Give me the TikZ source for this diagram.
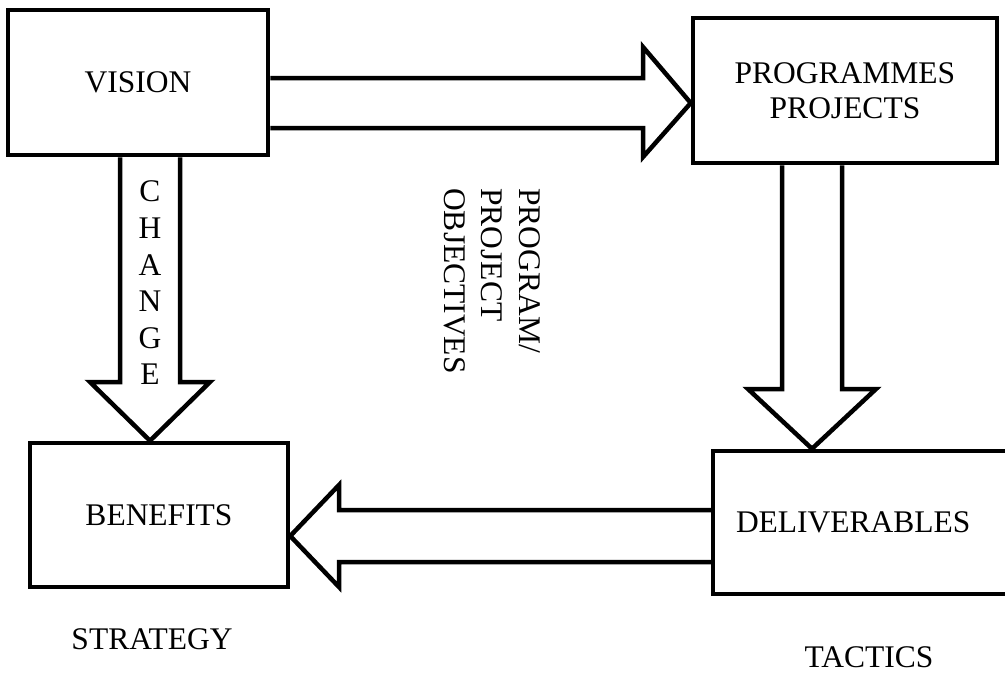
\documentclass[tikz,border=0pt]{standalone}
\usepackage{fontspec}
\setmainfont{Liberation Serif}
\begin{document}
\begin{tikzpicture}[x=1pt,y=-1pt,
  boxnode/.style={draw,line width=4.5pt,fill=white,inner sep=0pt,font=\fontsize{31.5}{35}\selectfont,align=center},
  blockarrow/.style={draw,line width=4.5pt,fill=white,line join=miter},
  label/.style={inner sep=0pt,font=\fontsize{31.5}{37.5}\selectfont}]
\useasboundingbox (0,0) rectangle (1005,675);
% boxes
\node[boxnode,minimum width=260pt,minimum height=145pt] (vision) at (138,82.5) {VISION};
\node[boxnode,minimum width=304pt,minimum height=145pt] (prog) at (845,90.5) {PROGRAMMES\\PROJECTS};
\node[boxnode,minimum width=258pt,minimum height=144pt] (benefits) at (159,515) {BENEFITS};
\node[boxnode,minimum height=143pt,text width=249pt,inner xsep=23pt,align=left] (deliv) at (860.5,522.5) {DELIVERABLES};
% block arrows
\draw[blockarrow] (vision.east |- 0,78) -- (643,78) -- (643,47) -- (prog.west |- 0,103) -- (643,157) -- (643,128) -- (vision.east |- 0,128);
\draw[blockarrow] (120,0 |- vision.south) -- (120,382) -- (90,382) -- (150,0 |- benefits.north) -- (210,382) -- (180,382) -- (180,0 |- vision.south);
\draw[blockarrow] (782,0 |- prog.south) -- (782,389) -- (748,389) -- (812,0 |- deliv.north) -- (876,389) -- (842,389) -- (842,0 |- prog.south);
\draw[blockarrow] (deliv.west |- 0,510) -- (339,510) -- (339,485) -- (benefits.east |- 0,536) -- (339,587) -- (339,562) -- (deliv.west |- 0,562);
% texts
\node[label,align=center,font=\fontsize{31.5}{36.6}\selectfont] (change) at (150,283) {C\\H\\A\\N\\G\\E};
\node[label,align=left,rotate=-90] (objectives) at (492,281) {PROGRAM/\\PROJECT\\OBJECTIVES};
\node[label] (strategy) at (152,639) {STRATEGY};
\node[label] (tactics) at (869,657) {TACTICS};
\end{tikzpicture}
\end{document}
